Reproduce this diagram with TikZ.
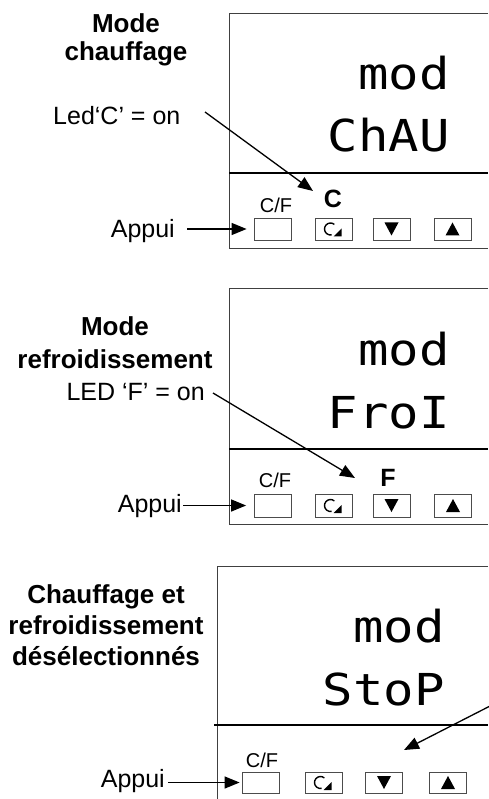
\documentclass[tikz,border=0pt]{standalone}
\usepackage{fontspec}
\setmainfont{Liberation Sans}
\newfontfamily\lcd[FakeStretch=1.15]{DejaVu Sans Mono}
\usetikzlibrary{arrows.meta}
\begin{document}
\begin{tikzpicture}[x=1pt,y=-1pt,
  frame/.style={draw=black!75, line width=0.9pt},
  divider/.style={draw=black, line width=1.3pt},
  btn/.style={draw=black!70, line width=0.8pt, fill=white, minimum width=37pt, minimum height=23pt, inner sep=0pt},
  lbl/.style={font=\fontsize{25}{28}\selectfont, inner sep=0pt},
  cf/.style={font=\fontsize{20}{24}\selectfont, inner sep=0pt, anchor=base},
  ledtxt/.style={font=\bfseries\fontsize{25}{30}\selectfont, inner sep=0pt, anchor=base},
  lcdtxt/.style={font=\lcd\fontsize{44}{50}\selectfont, inner sep=0pt, anchor=base east},
  ptr/.style={-{Triangle[length=15pt,width=12pt]}, line width=1.3pt},
  tri/.style={fill=black},
  loopico/.style={line width=1.4pt}
]
\useasboundingbox (0,0) rectangle (488,799);
\fill[white] (0,0) rectangle (488,799);

% ---------- Panel 1 ----------
\draw[frame] (488,13) -- (229,13) -- (229,248) -- (488,248);
\draw[divider] (229,173) -- (488,173);
\node[font=\bfseries\fontsize{26}{28}\selectfont, align=center, inner sep=0pt, anchor=north] (t1) at (126,13.5) {Mode\\chauffage};
\node[lbl, anchor=base west] (l1) at (53,125) {Led‘C’ = on};
\node[lcdtxt] (m1) at (450,90) {mod};
\node[lcdtxt] (v1) at (450,152) {ChAU};
\node[cf] (cf1l) at (276,213) {C/F};
\node[ledtxt] (c1) at (333,208) {C};
\node[btn, minimum height=22pt] (b1a) at (272.5,229) {};
\node[btn, minimum height=22pt] (b1b) at (333.5,229) {};
\node[btn, minimum height=22pt] (b1c) at (391.5,229) {};
\node[btn, minimum height=22pt] (b1d) at (452.5,229) {};
\draw[loopico] ([xshift=-3pt]b1b.center) ++(-50:6) arc[start angle=-50, end angle=-280, radius=6];
\fill[tri] ([shift={(0,7.5)}]b1b.center) -- ([shift={(8,7.5)}]b1b.center) -- ([shift={(8,-0.5)}]b1b.center) -- cycle;
\fill[tri] ([shift={(-7,-6.5)}]b1c.center) -- ([shift={(7,-6.5)}]b1c.center) -- ([shift={(0,6.5)}]b1c.center) -- cycle;
\fill[tri] ([shift={(-7,6.5)}]b1d.center) -- ([shift={(7,6.5)}]b1d.center) -- ([shift={(0,-6.5)}]b1d.center) -- cycle;
\node[lbl, anchor=base east] (ap1) at (175,238) {Appui};
\draw[ptr, shorten <=12pt, shorten >=7pt] (ap1.east |- b1a.west) -- (b1a.west);
\coordinate (s1) at (205,112);
\coordinate (e1) at (313,191);
\draw[ptr] (s1) -- (e1);

% ---------- Panel 2 ----------
\draw[frame] (488,288) -- (229,288) -- (229,524) -- (488,524);
\draw[divider] (229,449) -- (488,449);
\node[font=\bfseries\fontsize{26}{33}\selectfont, align=center, inner sep=0pt, anchor=north] (t2) at (115,316.5) {Mode\\refroidissement};
\node[lbl, anchor=base east] (l2) at (205,400) {LED ‘F’ = on};
\node[lcdtxt] (m2) at (450,365) {mod};
\node[lcdtxt] (v2) at (450,428) {FroI};
\node[cf] (cf2l) at (275,487) {C/F};
\node[ledtxt] (c2) at (388,486) {F};
\node[btn] (b2a) at (273,505.5) {};
\node[btn] (b2b) at (333.5,505.5) {};
\node[btn] (b2c) at (391.5,505.5) {};
\node[btn] (b2d) at (453,505.5) {};
\draw[loopico] ([xshift=-3pt]b2b.center) ++(-50:6) arc[start angle=-50, end angle=-280, radius=6];
\fill[tri] ([shift={(0,7.5)}]b2b.center) -- ([shift={(8,7.5)}]b2b.center) -- ([shift={(8,-0.5)}]b2b.center) -- cycle;
\fill[tri] ([shift={(-7,-6.5)}]b2c.center) -- ([shift={(7,-6.5)}]b2c.center) -- ([shift={(0,6.5)}]b2c.center) -- cycle;
\fill[tri] ([shift={(-7,6.5)}]b2d.center) -- ([shift={(7,6.5)}]b2d.center) -- ([shift={(0,-6.5)}]b2d.center) -- cycle;
\node[lbl, anchor=base east] (ap2) at (182,512) {Appui};
\draw[ptr, shorten <=1pt, shorten >=8pt] (ap2.east |- b2a.west) -- (b2a.west);
\coordinate (s2) at (213,393);
\coordinate (e2) at (355,478);
\draw[ptr] (s2) -- (e2);

% ---------- Panel 3 ----------
\draw[frame] (488,566) -- (217,566) -- (217,805);
\draw[divider] (214,725) -- (488,725);
\node[font=\bfseries\fontsize{26}{31}\selectfont, align=center, inner sep=0pt, anchor=north] (t3) at (106,584.5) {Chauffage et\\refroidissement\\désélectionnés};
\node[lcdtxt] (m3) at (445,642) {mod};
\node[lcdtxt] (v3) at (445,705) {StoP};
\node[cf] (cf3l) at (262,767) {C/F};
\node[btn, minimum height=21pt] (b3a) at (260.5,782.5) {};
\node[btn, minimum height=21pt] (b3b) at (323.5,782.5) {};
\node[btn, minimum height=21pt] (b3c) at (384,782.5) {};
\node[btn, minimum height=21pt] (b3d) at (448,782.5) {};
\draw[loopico] ([xshift=-3pt]b3b.center) ++(-50:6) arc[start angle=-50, end angle=-280, radius=6];
\fill[tri] ([shift={(0,7.5)}]b3b.center) -- ([shift={(8,7.5)}]b3b.center) -- ([shift={(8,-0.5)}]b3b.center) -- cycle;
\fill[tri] ([shift={(-7,-6.5)}]b3c.center) -- ([shift={(7,-6.5)}]b3c.center) -- ([shift={(0,6.5)}]b3c.center) -- cycle;
\fill[tri] ([shift={(-7,6.5)}]b3d.center) -- ([shift={(7,6.5)}]b3d.center) -- ([shift={(0,-6.5)}]b3d.center) -- cycle;
\node[lbl, anchor=base east] (ap3) at (165,787) {Appui};
\draw[ptr, shorten <=3pt, shorten >=2pt] (ap3.east |- b3a.west) -- (b3a.west);
\coordinate (s3) at (492,705);
\coordinate (e3) at (404,750);
\draw[ptr] (s3) -- (e3);
\end{tikzpicture}
\end{document}
